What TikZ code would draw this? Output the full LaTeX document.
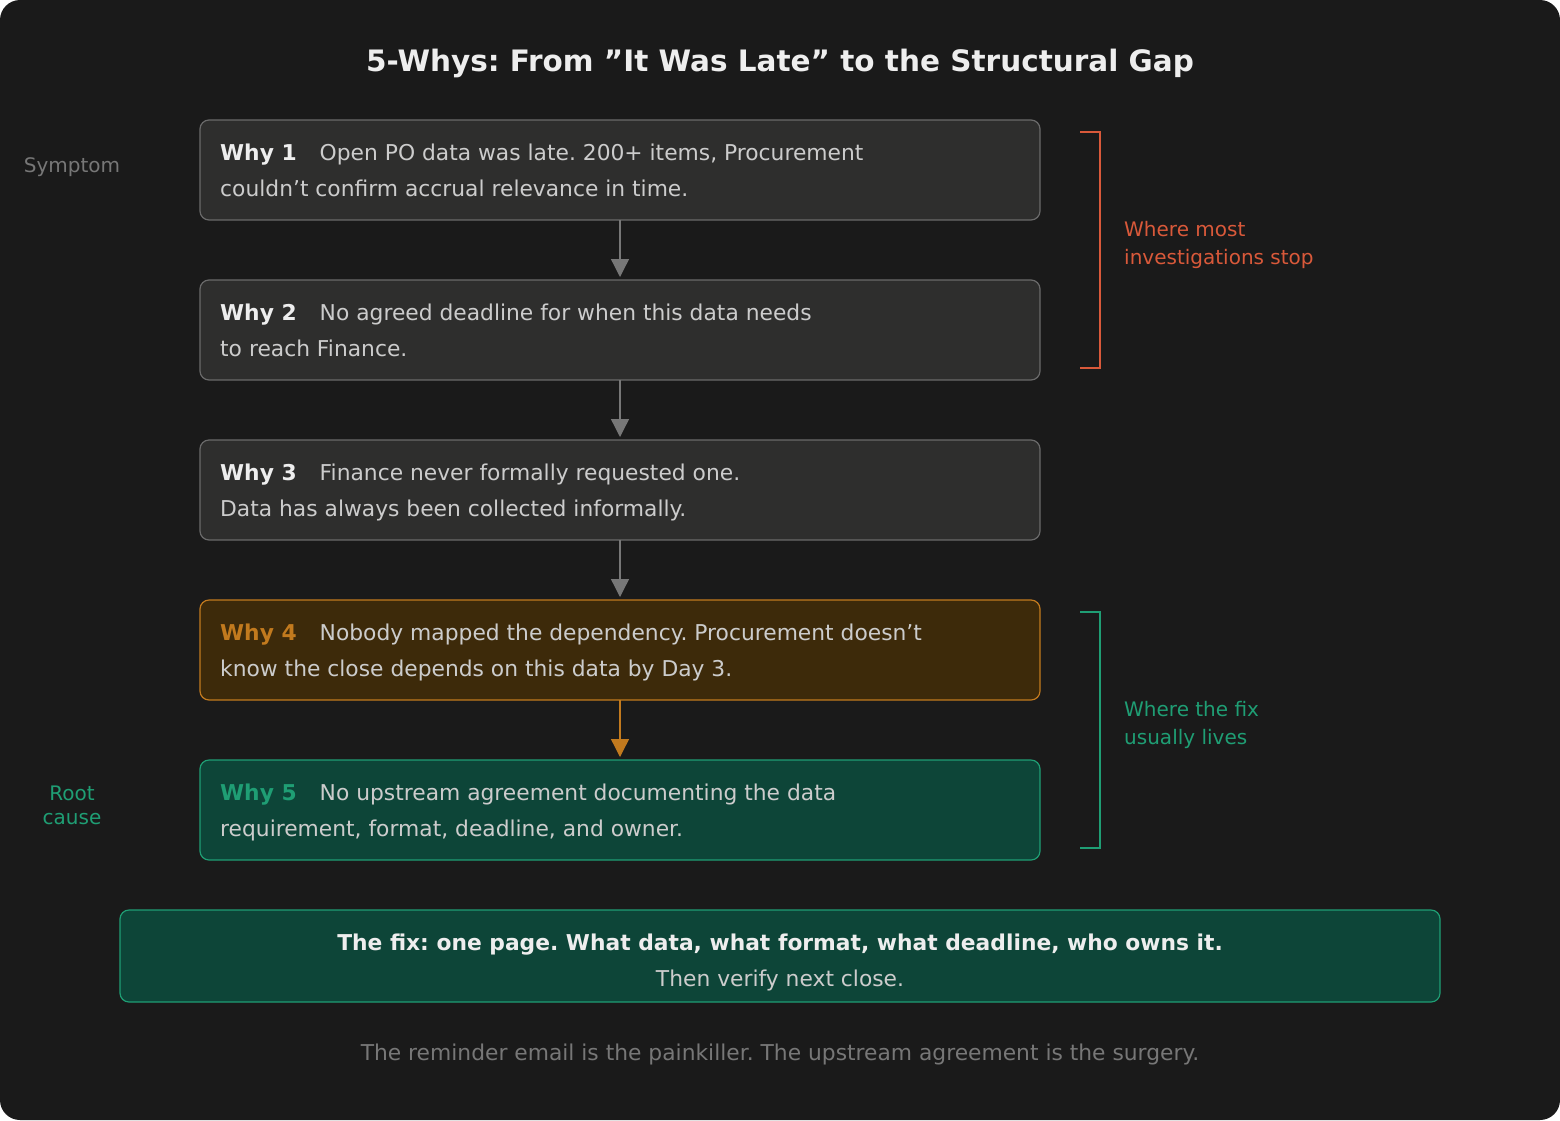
\documentclass[tikz,border=0pt]{standalone}
\usepackage{fontspec}
\setmainfont{DejaVu Sans}
\frenchspacing
\usetikzlibrary{arrows.meta}
\definecolor{bg}{HTML}{1A1A1A}
\definecolor{boxf}{HTML}{2E2E2D}
\definecolor{boxd}{HTML}{6A6A6A}
\definecolor{txt}{HTML}{CCCCCC}
\definecolor{wht}{HTML}{EEEEEE}
\definecolor{gry}{HTML}{777777}
\definecolor{orf}{HTML}{3D2A0A}
\definecolor{ord}{HTML}{C27A1E}
\definecolor{grf}{HTML}{0D4538}
\definecolor{grd}{HTML}{1F9E74}
\definecolor{redc}{HTML}{D9593A}
\newcommand{\ap}{\symbol{39}}
\newcommand{\dq}{\symbol{34}}
\begin{document}
\begin{tikzpicture}[x=1pt,y=-1pt,
  whybox/.style={draw=boxd,fill=boxf,rounded corners=9pt,line width=1.2pt},
  t/.style={anchor=base west,inner sep=0,text=txt,font=\fontsize{21.8}{26}\selectfont},
  s/.style={anchor=base west,inner sep=0,font=\fontsize{20}{24}\selectfont},
  arr/.style={draw=gry,line width=1.3pt,-{Triangle[length=18pt,width=18pt]}},
  brk/.style={line width=1.3pt}]
\fill[bg,rounded corners=20pt] (0,0) rectangle (1560,1120);
\useasboundingbox (0,0) rectangle (1560,1120);
\node[anchor=base,text=wht,font=\fontsize{29.5}{34}\selectfont\bfseries] (title) at (780,71) {5-Whys: From \dq It Was Late\dq{} to the Structural Gap};
% boxes
\path[whybox] (200,120) rectangle (1040,220);
\path[whybox] (200,280) rectangle (1040,380);
\path[whybox] (200,440) rectangle (1040,540);
\path[whybox,draw=ord,fill=orf] (200,600) rectangle (1040,700);
\path[whybox,draw=grd,fill=grf] (200,760) rectangle (1040,860);
\coordinate (b1b) at (620,220); \coordinate (b2t) at (620,277);
\coordinate (b2b) at (620,380); \coordinate (b3t) at (620,437);
\coordinate (b3b) at (620,540); \coordinate (b4t) at (620,597);
\coordinate (b4b) at (620,700); \coordinate (b5t) at (620,757);
\draw[arr] (b1b) -- (b2t);
\draw[arr] (b2b) -- (b3t);
\draw[arr] (b3b) -- (b4t);
\draw[arr,draw=ord] (b4b) -- (b5t);
% texts
\node[t] (w1) at (220,160) {\textcolor{wht}{\bfseries Why 1}\hspace{23pt}Open PO data was late. 200+ items, Procurement};
\node[t] (w1b) at (220,196) {couldn\ap t confirm accrual relevance in time.};
\node[t] (w2) at (220,320) {\textcolor{wht}{\bfseries Why 2}\hspace{23pt}No agreed deadline for when this data needs};
\node[t] (w2b) at (220,356) {to reach Finance.};
\node[t] (w3) at (220,480) {\textcolor{wht}{\bfseries Why 3}\hspace{23pt}Finance never formally requested one.};
\node[t] (w3b) at (220,516) {Data has always been collected informally.};
\node[t] (w4) at (220,640) {\textcolor{ord}{\bfseries Why 4}\hspace{23pt}Nobody mapped the dependency. Procurement doesn\ap t};
\node[t] (w4b) at (220,676) {know the close depends on this data by Day 3.};
\node[t] (w5) at (220,800) {\textcolor{grd}{\bfseries Why 5}\hspace{23pt}No upstream agreement documenting the data};
\node[t] (w5b) at (220,836) {requirement, format, deadline, and owner.};
% left labels
\node[s,anchor=base,text=gry] (sym) at (72,172) {Symptom};
\node[s,anchor=base,text=grd] (rc1) at (72,800) {Root};
\node[s,anchor=base,text=grd] (rc2) at (72,824) {cause};
% brackets
\draw[brk,redc] (1080,132) -- (1100,132) -- (1100,368) -- (1080,368);
\draw[brk,grd] (1080,612) -- (1100,612) -- (1100,848) -- (1080,848);
\node[s,text=redc] (r1) at (1124,236) {Where most};
\node[s,text=redc] (r2) at (1124,264) {investigations stop};
\node[s,text=grd] (g1) at (1124,716) {Where the fix};
\node[s,text=grd] (g2) at (1124,744) {usually lives};
% fix box
\path[whybox,draw=grd,fill=grf] (120,910) rectangle (1440,1002);
\node[t,anchor=base,text=wht,font=\fontsize{21.8}{26}\selectfont\bfseries] (f1) at (780,950) {The fix: one page. What data, what format, what deadline, who owns it.};
\node[t,anchor=base] (f2) at (780,986) {Then verify next close.};
\node[t,anchor=base,text=gry] (foot) at (780,1060) {The reminder email is the painkiller. The upstream agreement is the surgery.};
\end{tikzpicture}
\end{document}
